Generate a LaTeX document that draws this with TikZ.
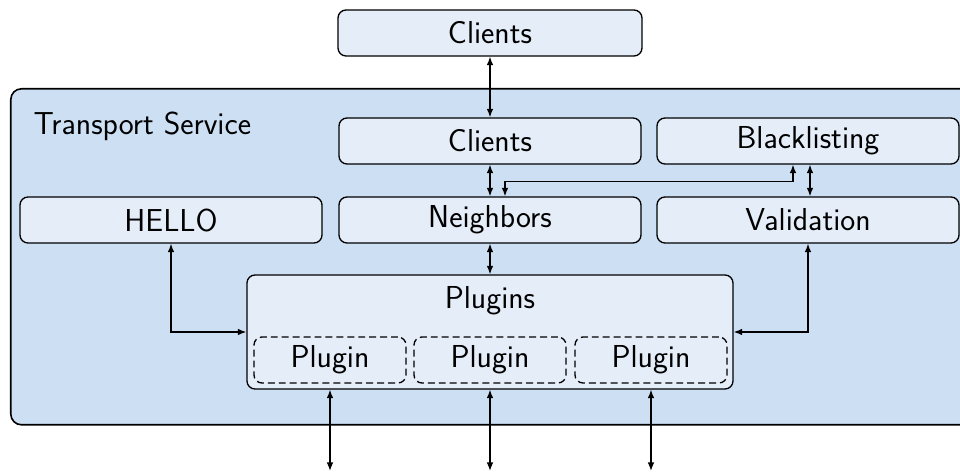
\documentclass[tikz,border=0pt]{standalone}
\usepackage{fontspec}
\usetikzlibrary{arrows.meta}
\newfontfamily\lightsans{lmsans17-regular.otf}
\definecolor{svcblue}{RGB}{204,223,243}
\definecolor{boxblue}{RGB}{229,237,248}
\begin{document}
\begin{tikzpicture}[x=0.375pt,y=-0.375pt,
  font=\lightsans\fontsize{11.9}{14}\selectfont,
  sz/.style 2 args={minimum width=#1*0.375pt, minimum height=#2*0.375pt},
  box/.style={draw, fill=boxblue, rounded corners=3pt, line width=0.5pt, inner sep=0pt},
  plug/.style={draw, dash pattern=on 2.6pt off 1.5pt, rounded corners=3pt, line width=0.5pt, inner sep=0pt},
  link/.style={{Latex[length=3.2pt,width=2.5pt]}-{Latex[length=3.2pt,width=2.5pt]}, line width=0.5pt}]

\useasboundingbox (0,0) rectangle (960,473);
\clip (0,0) rectangle (960,473);

% service container
\node[draw, fill=svcblue, rounded corners=4pt, line width=0.6pt, sz={960}{336}, anchor=north west] (svc) at (10,88) {};
\node[anchor=base west, inner sep=0pt] (svclabel) at (33,135) {Transport Service};

% components
\node[box, sz={304}{46}] (top) at (490,33) {Clients};
\node[box, sz={302}{46}] (cl) at (490,141) {Clients};
\node[box, sz={302}{46}] (bl) at (808,141) {Blacklisting};
\node[box, sz={302}{46}] (hello) at (171,220) {HELLO};
\node[box, sz={302}{46}] (nb) at (490,220) {Neighbors};
\node[box, sz={302}{46}] (val) at (808,220) {Validation};
\node[box, sz={486}{114}] (pl) at (490,332) {};
\node (pltitle) at (490,301) {Plugins};
\node[plug, sz={152}{46}] (p1) at (330,360) {Plugin};
\node[plug, sz={152}{46}] (p2) at (490,360) {Plugin};
\node[plug, sz={152}{46}] (p3) at (651,360) {Plugin};

% outside ends of the plugin links
\coordinate (o1) at (330,471);
\coordinate (o2) at (490,471);
\coordinate (o3) at (651,471);

% links
\draw[link] (top.south) -- (cl.north);
\draw[link] (cl.south) -- (nb.north);
\draw[link] (nb.south) -- (pl.north);
\draw[link] ([xshift=-5.625pt]bl.south) -- ++(0,17) -| ([xshift=5.625pt]nb.north);
\draw[link] ([xshift=0.75pt]bl.south) -- ([xshift=0.75pt]val.north);
\draw[link] (hello.south) |- (pl.west);
\draw[link] (val.south) |- (pl.east);
\draw[link] (pl.south -| p1) -- (o1);
\draw[link] (pl.south -| p2) -- (o2);
\draw[link] (pl.south -| p3) -- (o3);
\end{tikzpicture}
\end{document}
